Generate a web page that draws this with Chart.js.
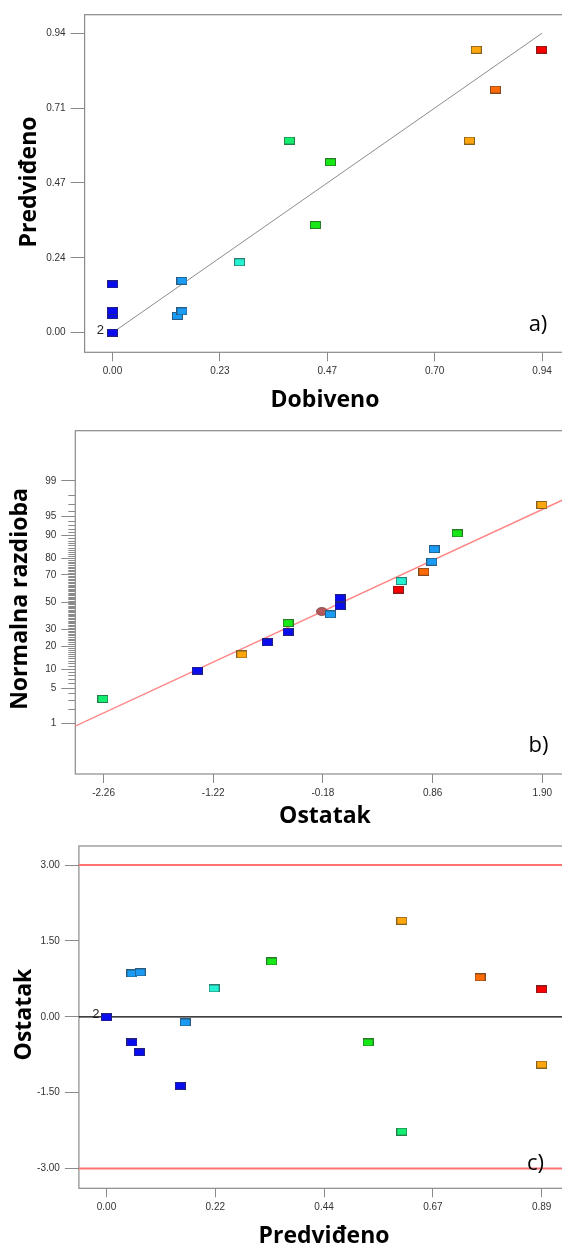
<!DOCTYPE html>
<html>
<head>
<meta charset="utf-8">
<script src="https://cdn.jsdelivr.net/npm/chart.js@4.4.1/dist/chart.umd.min.js"></script>
<style>
html, body { margin: 0; padding: 0; background: #fff; overflow: hidden; }
#wrap { position: relative; width: 562px; height: 1246px; overflow: hidden; }
canvas { position: absolute; left: 0; }
</style>
</head>
<body>
<div id="wrap">
<canvas id="chartA" width="600" height="420" style="top:0px"></canvas>
<canvas id="chartB" width="600" height="420" style="top:420px"></canvas>
<canvas id="chartC" width="600" height="406" style="top:840px"></canvas>
</div>
<script>
// a) Dobiveno (observed) vs Predviđeno (predicted)
var obsA = [0, 0, 0, 0, 0, 0.142, 0.152, 0.152, 0.278, 0.387, 0.477, 0.444, 0.781, 0.796, 0.838, 0.939]
var predA = [0, 0, 0.056, 0.068, 0.152, 0.053, 0.067, 0.163, 0.221, 0.603, 0.535, 0.338, 0.603, 0.888, 0.763, 0.888]
var groupA = ['blue', 'blue', 'blue', 'blue', 'blue', 'lightblue', 'lightblue', 'lightblue', 'cyan', 'greencyan', 'green', 'green', 'orange', 'orange', 'darkorange', 'red']
var diagA = [0, 0.94]
var tickValsA = [0, 0.235, 0.47, 0.705, 0.94]
var xLabelsA = ['0.00', '0.23', '0.47', '0.70', '0.94']
var yLabelsA = ['0.00', '0.24', '0.47', '0.71', '0.94']

// b) normal probability plot of residuals
var residB = [-2.267, -1.370, -0.949, -0.707, -0.510, -0.510, -0.109, -0.018, -0.018, 0.536, 0.563, 0.777, 0.852, 0.876, 1.093, 1.895]
var pctB = [3.2, 9.5, 15.9, 22.2, 28.5, 34.6, 40.9, 47.2, 53.3, 59.6, 65.8, 72.1, 78.2, 84.6, 90.7, 96.9]
var groupB = ['greencyan', 'blue', 'orange', 'blue', 'blue', 'green', 'lightblue', 'blue', 'blue', 'red', 'cyan', 'darkorange', 'lightblue', 'lightblue', 'green', 'orange']
var flagResidB = [-0.191]
var flagPctB = [43.1]
var fitResidB = [-2.53, 2.17]
var fitSlopeB = 0.938
var xTickValsB = [-2.26, -1.22, -0.18, 0.86, 1.90]
var xLabelsB = ['-2.26', '-1.22', '-0.18', '0.86', '1.90']
var pctMajorB = [1, 5, 10, 20, 30, 50, 70, 80, 90, 95, 99]

// c) Ostatak (residual) vs Predviđeno
var predC = [0, 0, 0.052, 0.069, 0.052, 0.067, 0.151, 0.161, 0.220, 0.338, 0.535, 0.604, 0.604, 0.764, 0.890, 0.890]
var residC = [-0.01, -0.01, 0.857, 0.877, -0.508, -0.699, -1.365, -0.112, 0.560, 1.094, -0.508, 1.899, -2.269, 0.778, 0.541, -0.943]
var groupC = ['blue', 'blue', 'lightblue', 'lightblue', 'blue', 'blue', 'blue', 'lightblue', 'cyan', 'green', 'green', 'orange', 'greencyan', 'darkorange', 'red', 'orange']
var limitsC = [-3, 3]
var xTickValsC = [0, 0.2225, 0.445, 0.6675, 0.89]
var xLabelsC = ['0.00', '0.22', '0.44', '0.67', '0.89']
var yTickValsC = [-3, -1.5, 0, 1.5, 3]
var yLabelsC = ['-3.00', '-1.50', '0.00', '1.50', '3.00']

var palette = {
	blue: '#0a0cf0', lightblue: '#1a9cf4', cyan: '#24f2d2', greencyan: '#14ee70',
	green: '#18e818', orange: '#ffa60e', darkorange: '#ff6c06', red: '#f80000'
}

var markerCache = {}
function marker(name) {
	name = palette[name] ? name : 'blue'
	if (!markerCache[name]) {
		var c = document.createElement('canvas')
		c.width = 11; c.height = 8
		var g = c.getContext('2d')
		g.fillStyle = palette[name]
		g.fillRect(0, 0, 11, 8)
		g.strokeStyle = 'rgba(50,50,50,0.6)'
		g.lineWidth = 1
		g.strokeRect(0.5, 0.5, 10, 7)
		markerCache[name] = c
	}
	return markerCache[name]
}

function ellipseMarker() {
	var c = document.createElement('canvas')
	c.width = 12; c.height = 9
	var g = c.getContext('2d')
	g.beginPath()
	g.ellipse(6, 4.5, 5.5, 4, 0, 0, Math.PI * 2)
	g.fillStyle = '#b55a5a'
	g.fill()
	g.strokeStyle = 'rgba(90,30,30,0.6)'
	g.stroke()
	return c
}

// inverse normal cdf (Acklam) for the probability axis
function probit(p) {
	var a = [-3.969683028665376e+01, 2.209460984245205e+02, -2.759285104469687e+02, 1.383577518672690e+02, -3.066479806614716e+01, 2.506628277459239e+00]
	var b = [-5.447609879822406e+01, 1.615858368580409e+02, -1.556989798598866e+02, 6.680131188771972e+01, -1.328068155288572e+01]
	var c = [-7.784894002430293e-03, -3.223964580411365e-01, -2.400758277161838e+00, -2.549732539343734e+00, 4.374664141464968e+00, 2.938163982698783e+00]
	var d = [7.784695709041462e-03, 3.224671290700398e-01, 2.445134137142996e+00, 3.754408661907416e+00]
	var pl = 0.02425, q, r
	if (p < pl) {
		q = Math.sqrt(-2 * Math.log(p))
		return (((((c[0]*q+c[1])*q+c[2])*q+c[3])*q+c[4])*q+c[5]) / ((((d[0]*q+d[1])*q+d[2])*q+d[3])*q+1)
	}
	if (p > 1 - pl) {
		q = Math.sqrt(-2 * Math.log(1 - p))
		return -(((((c[0]*q+c[1])*q+c[2])*q+c[3])*q+c[4])*q+c[5]) / ((((d[0]*q+d[1])*q+d[2])*q+d[3])*q+1)
	}
	q = p - 0.5; r = q * q
	return (((((a[0]*r+a[1])*r+a[2])*r+a[3])*r+a[4])*r+a[5])*q / (((((b[0]*r+b[1])*r+b[2])*r+b[3])*r+b[4])*r+1)
}

var tickFont = {family: '"Liberation Sans", Arial, sans-serif', size: 10}
var titleFont = 'bold 23px "Open Sans", sans-serif'
var panelFont = '22px "Open Sans", sans-serif'

function makeScale(min, max, vals, labels, tickLen, size, vertical, extraGrid) {
	var grid = {drawOnChartArea: false, drawTicks: true, tickLength: tickLen, tickColor: '#8a8a8a', tickWidth: 1}
	if (extraGrid) Object.assign(grid, extraGrid)
	return {
		type: 'linear', min: min, max: max,
		position: vertical ? 'left' : 'bottom',
		afterBuildTicks: s => { s.ticks = vals.map(v => ({value: v})) },
		afterFit: s => {
			if (vertical) { s.width = size; s.paddingTop = 0; s.paddingBottom = 0 }
			else { s.height = size; s.paddingLeft = 0; s.paddingRight = 0 }
		},
		ticks: {
			autoSkip: false, maxRotation: 0, minRotation: 0,
			padding: vertical ? 5 : 4, color: '#333', font: tickFont,
			callback: (v, i) => labels[i]
		},
		grid: grid,
		border: {display: false}
	}
}

var boxPlugin = {
	id: 'box',
	beforeDatasetsDraw(chart) {
		var a = chart.chartArea, g = chart.ctx
		g.save()
		g.strokeStyle = '#8a8a8a'
		g.lineWidth = 1.2
		g.strokeRect(a.left, a.top, a.right - a.left, a.bottom - a.top)
		g.restore()
	}
}

var notesPlugin = {
	id: 'notes',
	afterDraw(chart, args, opts) {
		var g = chart.ctx
		;(opts.items || []).forEach(it => {
			var x = it.x, y = it.y
			if (it.atX !== undefined) {
				x = chart.scales.x.getPixelForValue(it.atX) + it.dx
				y = chart.scales.y.getPixelForValue(it.atY) + it.dy
			}
			g.save()
			g.translate(x, y)
			if (it.rotate) g.rotate(-Math.PI / 2)
			g.font = it.font
			g.fillStyle = it.color || '#000'
			g.textAlign = 'center'
			g.textBaseline = it.baseline || 'alphabetic'
			g.fillText(it.text, 0, 0)
			g.restore()
		})
	}
}

function baseOptions(pad, xScale, yScale, notes) {
	return {
		responsive: false,
		animation: false,
		layout: {padding: pad},
		scales: {x: xScale, y: yScale},
		plugins: {legend: {display: false}, tooltip: {enabled: false}, notes: {items: notes}}
	}
}

// ---- a)
new Chart(document.getElementById('chartA'), {
	type: 'scatter',
	data: {datasets: [
		{data: obsA.map((x, i) => ({x: x, y: predA[i]})), pointStyle: ctx => marker(groupA[ctx.dataIndex]), pointRadius: 5, order: 1},
		{type: 'line', data: diagA.map(v => ({x: v, y: v})), borderColor: '#8c8c8c', borderWidth: 1, pointRadius: 0, order: 3}
	]},
	options: baseOptions({top: 14.7, left: 0, right: 30.5, bottom: 27.7},
		makeScale(-0.061, 1.0, tickValsA, xLabelsA, 9, 40, false),
		makeScale(-0.0615, 0.998, tickValsA, yLabelsA, 14, 84.6, true),
		[
			{text: 'Predviđeno', x: 36, y: 182, rotate: true, font: titleFont},
			{text: 'Dobiveno', x: 325, y: 406.5, font: titleFont},
			{text: 'a)', x: 538, y: 325, font: panelFont, baseline: 'middle'},
			{text: '2', atX: 0, atY: 0, dx: -12, dy: -2, font: '13px "Liberation Sans", Arial, sans-serif', baseline: 'middle', color: '#222'}
		]),
	plugins: [boxPlugin, notesPlugin]
})

// ---- b)
var pctAllB = []
for (var p = 1; p <= 99; p++) pctAllB.push(p)
new Chart(document.getElementById('chartB'), {
	type: 'scatter',
	data: {datasets: [
		{data: residB.map((x, i) => ({x: x, y: probit(pctB[i] / 100)})), pointStyle: ctx => marker(groupB[ctx.dataIndex]), pointRadius: 5, order: 1},
		{data: flagResidB.map((x, i) => ({x: x, y: probit(flagPctB[i] / 100)})), pointStyle: ellipseMarker(), pointRadius: 5, order: 2},
		{type: 'line', data: fitResidB.map(x => ({x: x, y: fitSlopeB * x})), borderColor: '#ff8585', borderWidth: 1.5, pointRadius: 0, order: 3}
	]},
	options: baseOptions({top: 10.7, left: 0, right: 29, bottom: 26},
		makeScale(-2.528, 2.172, xTickValsB, xLabelsB, 9, 40, false),
		makeScale(-3.29, 3.29, pctAllB.map(p => probit(p / 100)),
			pctAllB.map(p => pctMajorB.indexOf(p) >= 0 ? String(p) : ''), 14, 75.3, true,
			{tickBorderDash: ctx => pctMajorB.indexOf(pctAllB[ctx.index]) >= 0 ? [] : [0, 7, 7, 0]}),
		[
			{text: 'Normalna razdioba', x: 27, y: 179, rotate: true, font: titleFont},
			{text: 'Ostatak', x: 325, y: 403, font: titleFont},
			{text: 'b)', x: 538.5, y: 326, font: panelFont, baseline: 'middle'}
		]),
	plugins: [boxPlugin, notesPlugin]
})

// ---- c)
var rangeXC = [-0.0564, 0.95]
new Chart(document.getElementById('chartC'), {
	type: 'scatter',
	data: {datasets: [
		{data: predC.map((x, i) => ({x: x, y: residC[i]})), pointStyle: ctx => marker(groupC[ctx.dataIndex]), pointRadius: 5, order: 1},
		{type: 'line', data: rangeXC.map(x => ({x: x, y: 0})), borderColor: '#000', borderWidth: 1.3, pointRadius: 0, order: 3},
		{type: 'line', data: rangeXC.map(x => ({x: x, y: limitsC[0]})), borderColor: '#ff7272', borderWidth: 2, pointRadius: 0, order: 3},
		{type: 'line', data: rangeXC.map(x => ({x: x, y: limitsC[1]})), borderColor: '#ff7272', borderWidth: 2, pointRadius: 0, order: 3}
	]},
	options: baseOptions({top: 6, left: 0, right: 29, bottom: 17.7},
		makeScale(rangeXC[0], rangeXC[1], xTickValsC, xLabelsC, 9, 40, false),
		makeScale(-3.39, 3.376, yTickValsC, yLabelsC, 14, 78.9, true),
		[
			{text: 'Ostatak', x: 30.5, y: 174.5, rotate: true, font: titleFont},
			{text: 'Predviđeno', x: 324, y: 403, font: titleFont},
			{text: 'c)', x: 535.5, y: 323.5, font: panelFont, baseline: 'middle'},
			{text: '2', atX: 0, atY: 0, dx: -10.5, dy: -2.5, font: '13px "Liberation Sans", Arial, sans-serif', baseline: 'middle', color: '#222'}
		]),
	plugins: [boxPlugin, notesPlugin]
})
</script>
</body>
</html>
